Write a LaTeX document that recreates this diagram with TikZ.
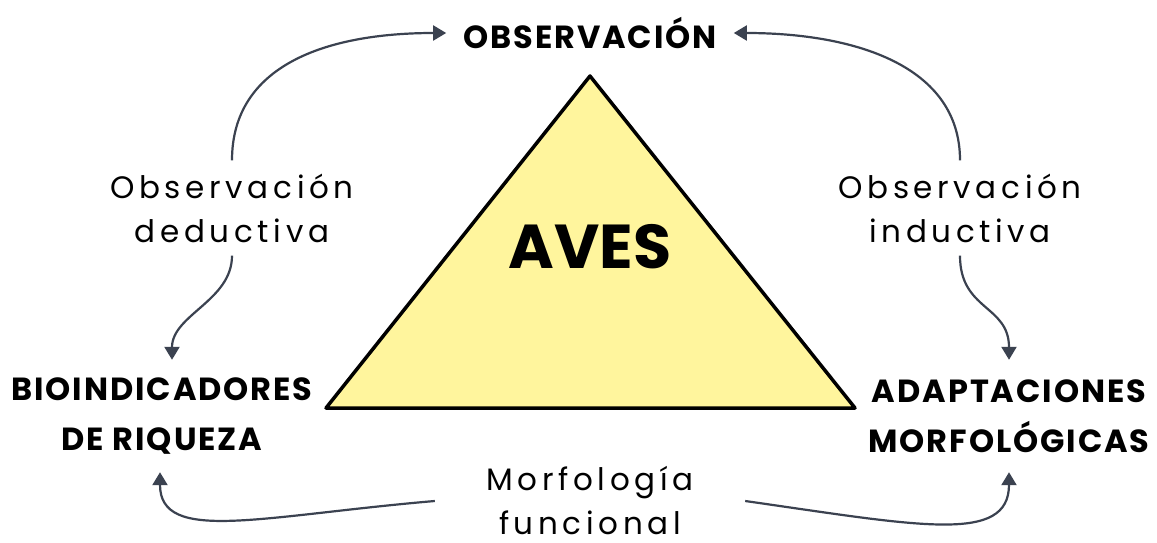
\documentclass[tikz,border=0pt]{standalone}
\usepackage{fontspec}
\setmainfont{Poppins}
\newfontfamily\headfont[LetterSpace=6]{Poppins}
\newfontfamily\avesfont{Poppins}
\newfontfamily\labfont[LetterSpace=15]{Poppins}
\usetikzlibrary{arrows.meta}
\definecolor{triyellow}{HTML}{FFF59D}
\definecolor{conncol}{HTML}{3B4250}
\begin{document}
\begin{tikzpicture}[x=1pt,y=-1pt,
  head/.style={font=\headfont\bfseries\fontsize{32}{50}\selectfont, align=center, inner sep=0pt},
  lab/.style={font=\labfont\fontsize{31}{44}\selectfont, align=center, inner sep=0pt},
  conn/.style={draw=conncol, line width=2.2pt, -{Triangle[length=13pt,width=15pt]}},
  tri/.style={draw=black, fill=triyellow, line width=3.5pt, line join=round}]
\useasboundingbox (0,0) rectangle (1157,543);
\fill[white] (0,0) rectangle (1157,543);
% triangle
\coordinate (apex) at (590,76);
\coordinate (bl) at (326,408);
\coordinate (br) at (855,408);
\draw[tri] (apex) -- (bl) -- (br) -- cycle;
\node[font=\avesfont\bfseries\fontsize{62}{70}\selectfont, inner sep=0pt] (aves) at (590,247) {AVES};
% headings
\node[head, inner xsep=17pt] (obs) at (590,33) {OBSERVACIÓN};
\node[head, minimum height=112pt] (bio) at (162,416) {BIOINDICADORES\\DE RIQUEZA};
\node[head, minimum height=112pt] (adap) at (1009,416) {ADAPTACIONES\\MORFOLÓGICAS};
% labels
\node[lab, minimum height=95pt] (ded) at (232,208) {Observación\\deductiva};
\node[lab, minimum height=95pt] (ind) at (960,208) {Observación\\inductiva};
\node[lab, minimum width=310pt] (morf) at (590,501) {Morfología\\funcional};
% connectors
\draw[conn] (ded.north) .. controls +(0,-95) and +(-120,0) .. (obs.west);
\draw[conn] (ind.north) .. controls +(0,-95) and +(120,0) .. (obs.east);
\draw[conn] (ded.south) .. controls +(0,45) and +(0,-45) .. ([xshift=10pt]bio.north);
\draw[conn] (ind.south) .. controls +(0,55) and +(0,-55) .. (adap.north);
\draw[conn] (morf.west) .. controls +(-175,15) and +(0,72) .. ([xshift=-2pt]bio.south);
\draw[conn] (morf.east) .. controls +(175,25) and +(0,72) .. (adap.south);
\end{tikzpicture}
\end{document}
